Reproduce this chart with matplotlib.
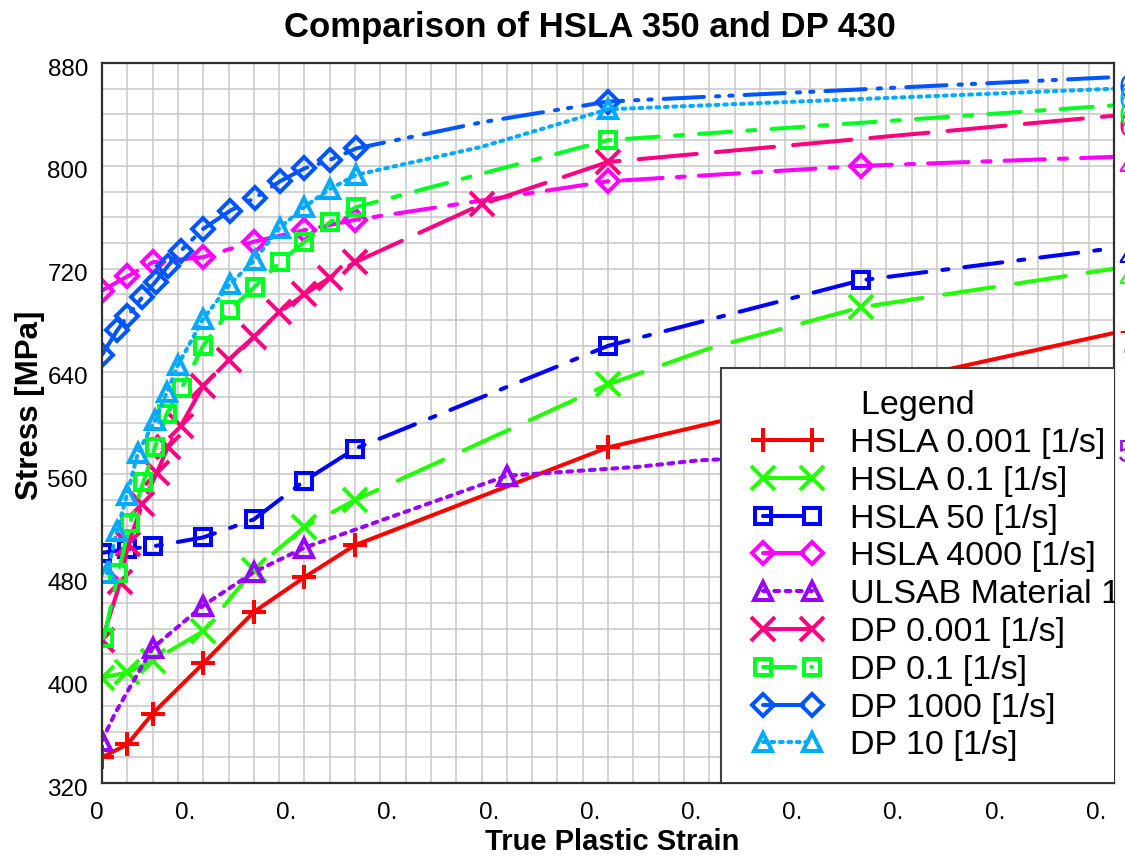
import numpy as np
import matplotlib
matplotlib.use("Agg")
import matplotlib.pyplot as plt
from matplotlib.lines import Line2D
from matplotlib.ticker import MultipleLocator
from matplotlib.legend_handler import HandlerLine2D
from matplotlib.transforms import ScaledTranslation

plt.rcParams["font.family"] = ["Liberation Sans", "DejaVu Sans"]
plt.rcParams["lines.dash_capstyle"] = "round"
plt.rcParams["lines.solid_capstyle"] = "round"

# ---- data (strain, stress MPa) ----
hsla_0001_x = [0, 0.0125, 0.025, 0.05, 0.075, 0.1, 0.125, 0.25, 0.375, 0.5]
hsla_0001_y = [340, 350, 374, 413, 453, 480, 505, 581, 627, 670]
hsla_0001_mk = [0, 1, 2, 3, 4, 5, 6, 7, 8]

hsla_01_x = [0, 0.0125, 0.025, 0.05, 0.075, 0.1, 0.125, 0.25, 0.30, 0.375, 0.5]
hsla_01_y = [402, 406, 415, 438, 486, 519, 540, 630, 658, 690, 720]
hsla_01_mk = [0, 1, 2, 3, 4, 5, 6, 7, 9]

hsla_50_x = [0, 0.0125, 0.025, 0.05, 0.075, 0.1, 0.125, 0.25, 0.375, 0.5]
hsla_50_y = [499, 502, 504, 511, 525, 555, 580, 660, 711, 736]
hsla_50_mk = [0, 1, 2, 3, 4, 5, 6, 7, 8]

hsla_4000_x = [0, 0.0125, 0.025, 0.05, 0.075, 0.1, 0.125, 0.25, 0.375, 0.5]
hsla_4000_y = [703, 714, 725, 729, 741, 750, 758, 788, 800, 807]
hsla_4000_mk = [0, 1, 2, 3, 4, 5, 6, 7, 8]

ulsab_x = [0, 0.0064, 0.0147, 0.025, 0.05, 0.075, 0.1, 0.2, 0.2655, 0.295, 0.5]
ulsab_y = [353, 374, 397, 425, 458, 484, 503, 559, 566, 571, 585]
ulsab_mk = [0, 3, 4, 5, 6, 7]

dp_0001_x = [0, 0.009, 0.013, 0.02, 0.027, 0.0325, 0.039, 0.05, 0.0625, 0.075,
             0.0875, 0.1, 0.1125, 0.125, 0.1875, 0.25, 0.5]
dp_0001_y = [431, 476, 506, 537, 561, 581, 598, 629, 649, 667, 686, 700, 713, 725, 770, 803, 839]
dp_0001_mk = list(range(16))

dp_01_x = [0.001, 0.008, 0.0138, 0.0204, 0.0262, 0.0319, 0.0393, 0.05, 0.0632, 0.0755,
           0.0879, 0.1, 0.1125, 0.1257, 0.25, 0.5]
dp_01_y = [433, 483, 522, 554, 581, 607, 627, 660, 688, 706, 725, 741, 756, 768, 820, 847]
dp_01_mk = list(range(15))

dp_1000_x = [0, 0.0075, 0.0125, 0.02, 0.0265, 0.0325, 0.039, 0.05, 0.0632, 0.0755,
             0.0879, 0.1, 0.1125, 0.1257, 0.188, 0.25, 0.5]
dp_1000_y = [653, 672, 683, 698, 710, 722, 734, 751, 765, 775, 788, 798, 804.5, 813.6, 834, 850, 869]
dp_1000_mk = [0, 1, 2, 3, 4, 5, 6, 7, 8, 9, 10, 11, 12, 13, 15]

dp_10_x = [0.0025, 0.0074, 0.0123, 0.0178, 0.0262, 0.0321, 0.0375, 0.05, 0.0632, 0.0755,
           0.0879, 0.1, 0.1125, 0.1257, 0.188, 0.25, 0.5]
dp_10_y = [483, 516, 544, 577, 602, 624, 645, 681, 708, 727, 752, 768, 782, 793, 815, 844, 860]
dp_10_mk = [0, 1, 2, 3, 4, 5, 6, 7, 8, 9, 10, 11, 12, 13, 15]

labels = ["HSLA 0.001 [1/s]", "HSLA 0.1 [1/s]", "HSLA 50 [1/s]", "HSLA 4000 [1/s]",
          "ULSAB Material 1", "DP 0.001 [1/s]", "DP 0.1 [1/s]", "DP 1000 [1/s]", "DP 10 [1/s]"]
end_tags = ["7", "4", "4", "4", "5", "6", "6", "6", "6"]

series = [(hsla_0001_x, hsla_0001_y, hsla_0001_mk), (hsla_01_x, hsla_01_y, hsla_01_mk),
          (hsla_50_x, hsla_50_y, hsla_50_mk), (hsla_4000_x, hsla_4000_y, hsla_4000_mk),
          (ulsab_x, ulsab_y, ulsab_mk), (dp_0001_x, dp_0001_y, dp_0001_mk),
          (dp_01_x, dp_01_y, dp_01_mk), (dp_1000_x, dp_1000_y, dp_1000_mk),
          (dp_10_x, dp_10_y, dp_10_mk)]

# colour, marker, marker size, dash pattern
styles = [("#ff0000", "+", 17, "-"),
          ("#22ff00", "x", 17, (0, (12.5, 5.5))),
          ("#0000ff", "s", 12, (0, (9.5, 4, 1.5, 4))),
          ("#ff00ff", "D", 11, (0, (10, 3.5, 2, 3.5))),
          ("#9900ff", "^", 13, (0, (1.2, 1.6))),
          ("#ff0080", "x", 17, (0, (14.5, 4.75))),
          ("#00ff22", "s", 12, (0, (8, 4, 2, 4))),
          ("#0055ff", "D", 11, (0, (10, 3, 0.8, 2.5, 0.8, 3))),
          ("#00aaff", "^", 13, (0, (0.7, 1.4)))]

LW = 2.9
W, H = 1125, 856
fig = plt.figure(figsize=(W / 100, H / 100), dpi=100)
ax = fig.add_axes([102 / W, 1 - 783 / H, (1114 - 102) / W, (783 - 63) / H])

handles = []
for (xs, ys, mk), lab, (c, m, ms, ls), tag in zip(series, labels, styles, end_tags):
    ln, = ax.plot(xs, ys, color=c, lw=LW, ls=ls, marker=m, ms=ms, mew=LW,
                  mfc="none", mec=c, markevery=mk, label=lab, clip_on=True)
    handles.append(ln)
    # end-of-curve tags, mostly cut off by the right edge as in the original
    ax.annotate(tag, xy=(xs[-1], ys[-1]), xytext=(4, -12), textcoords="offset pixels",
                fontsize=22, color=c, ha="left", va="center", annotation_clip=False)

ax.set_xlim(0, 0.5)
ax.set_ylim(320, 880)
ax.xaxis.set_major_locator(MultipleLocator(0.05))
ax.xaxis.set_minor_locator(MultipleLocator(0.0125))
ax.yaxis.set_major_locator(MultipleLocator(80))
ax.yaxis.set_minor_locator(MultipleLocator(20))
ax.grid(which="both", color="#c8c8c8", lw=1.1)
ax.set_axisbelow(True)
ax.tick_params(which="both", length=0)
ax.tick_params(axis="x", labelsize=17.5, pad=14)
ax.tick_params(axis="y", labelsize=17.5, pad=10)
for sp in ax.spines.values():
    sp.set_linewidth(1.6)
    sp.set_color("#303030")

xt = np.arange(0, 0.5001, 0.05)
ax.set_xticks(xt, ["0"] + ["0."] * (len(xt) - 1))
for i, t in enumerate(ax.xaxis.get_major_ticks()):
    dx = -5 if i == 0 else -18
    t.label1.set_transform(t.label1.get_transform() + ScaledTranslation(dx / 100, 0, fig.dpi_scale_trans))
for t in ax.yaxis.get_major_ticks():
    t.label1.set_transform(t.label1.get_transform() + ScaledTranslation(0, -4 / 100, fig.dpi_scale_trans))

leg = ax.legend(handles=handles, loc="upper left",
                bbox_to_anchor=((721 - 102) / 1012, (783 - 368) / 720),
                borderaxespad=0, fontsize=24.5, title="Legend   ", title_fontsize=24.5,
                handlelength=2.62, handletextpad=0.53, labelspacing=0.2, borderpad=0.65,
                fancybox=False, framealpha=1, edgecolor="#404040",
                handler_map={Line2D: HandlerLine2D(numpoints=2, marker_pad=0.59)})
leg.get_frame().set_linewidth(1.5)
leg.get_frame().set_clip_box(ax.bbox)
for t in leg.get_texts():
    t.set_clip_box(ax.bbox)
    t.set_clip_on(True)

fig.text(590 / W, 1 - 28 / H, "Comparison of HSLA 350 and DP 430", fontsize=25,
         fontweight="bold", ha="center", va="center")
fig.text(612 / W, 1 - 842 / H, "True Plastic Strain", fontsize=21,
         fontweight="bold", ha="center", va="center")
fig.text(30 / W, 1 - 405 / H, "Stress [MPa]", fontsize=22.5, fontweight="bold",
         ha="center", va="center", rotation=90)

fig.savefig("out.png", dpi=100)
